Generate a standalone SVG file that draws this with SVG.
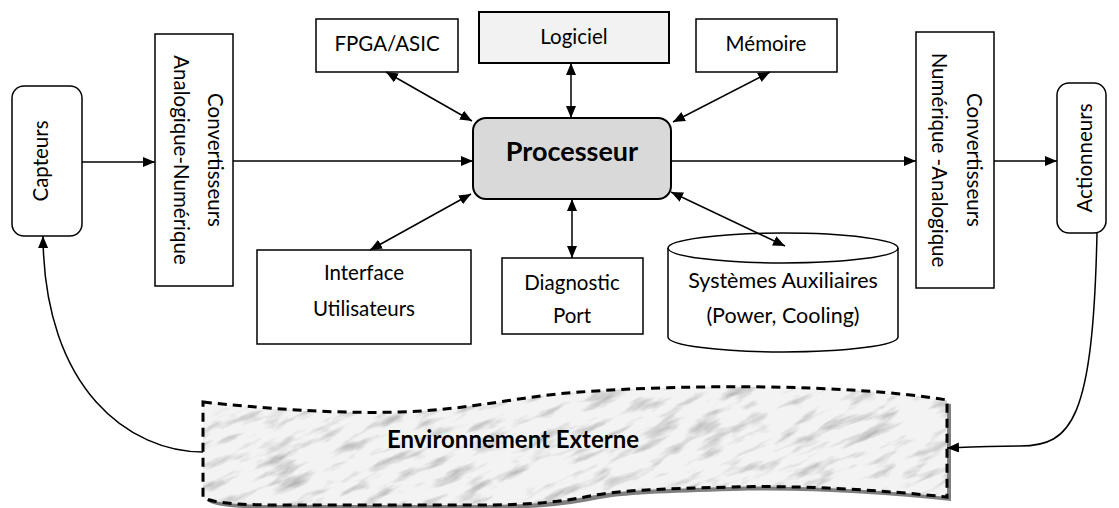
<svg xmlns="http://www.w3.org/2000/svg" width="1119" height="508" viewBox="0 0 1119 508">
  <style>
    .box { fill: #ffffff; stroke: #000000; stroke-width: 1.5; }
    .lbl { font-family: Lato, "Liberation Sans", sans-serif; font-size: 20.5px; fill: #000000; text-anchor: middle; }
    .title { font-family: Lato, "Liberation Sans", sans-serif; font-weight: bold; fill: #000000; text-anchor: middle; }
    .link { fill: none; stroke: #000000; stroke-width: 1.5; }
  </style>
  <defs>
    <marker id="head" viewBox="0 0 12 10" refX="12" refY="5" markerWidth="12" markerHeight="10" markerUnits="userSpaceOnUse" orient="auto-start-reverse">
      <path d="M0,0 L12,5 L0,10 Z" fill="#000000"/>
    </marker>
    <!-- marble-like grain for the environment band -->
    <filter id="marble" x="0" y="0" width="1" height="1" color-interpolation-filters="sRGB">
      <feTurbulence type="fractalNoise" baseFrequency="0.025 0.1" numOctaves="4" seed="11" result="noise"/>
      <feColorMatrix in="noise" type="matrix" values="0 0 0 0 0.6  0 0 0 0 0.6  0 0 0 0 0.61  1.8 0 0 0 -0.9"/>
    </filter>
    <path id="envShape" d="M203,402 C260,408 330,414 400,412 C470,410 520,396 580,392 C690,384 850,384 947,400 L947,497 C880,490 800,485 730,487 C660,489 620,490 590,496 C560,502 530,505 480,505 L280,505 C240,505 210,503 203,497 Z"/>
    <clipPath id="envClip">
      <use href="#envShape"/>
    </clipPath>
  </defs>

  <!-- external environment band -->
  <g id="environnement">
    <use href="#envShape" transform="translate(4,4)" fill="#7f7f7f"/>
    <use href="#envShape" fill="#f3f3f3"/>
    <g clip-path="url(#envClip)">
      <rect x="125" y="195" width="900" height="500" transform="rotate(-24 575 445)" fill="#ffffff" filter="url(#marble)"/>
    </g>
    <use href="#envShape" fill="none" stroke="#000000" stroke-width="3" stroke-dasharray="9 6"/>
    <text class="title" x="513" y="448" style="font-size:24px">Environnement Externe</text>
  </g>

  <g id="capteurs">
    <rect class="box" x="12" y="86" width="70" height="150" rx="12"/>
    <text class="lbl" transform="translate(48 161) rotate(-90)">Capteurs</text>
  </g>

  <g id="can">
    <rect class="box" x="155" y="34" width="78" height="252"/>
    <g transform="translate(194 160) rotate(90)">
      <text class="lbl" x="0" y="-14">Convertisseurs</text>
      <text class="lbl" x="0" y="20">Analogique-Numérique</text>
    </g>
  </g>

  <g id="processeur">
    <rect x="473" y="118" width="198" height="81" rx="13" fill="#d9d9d9" stroke="#000000" stroke-width="2"/>
    <text class="title" x="572" y="161" style="font-size:27px">Processeur</text>
  </g>

  <g id="fpga">
    <rect class="box" x="316" y="19" width="142" height="53"/>
    <text class="lbl" x="387" y="51">FPGA/ASIC</text>
  </g>

  <g id="logiciel">
    <rect x="479" y="12" width="190" height="51" fill="#f2f2f2" stroke="#000000" stroke-width="2"/>
    <text class="lbl" x="574" y="44">Logiciel</text>
  </g>

  <g id="memoire">
    <rect class="box" x="696" y="19" width="141" height="53"/>
    <text class="lbl" x="766" y="51">Mémoire</text>
  </g>

  <g id="interface">
    <rect class="box" x="257" y="250" width="214" height="94"/>
    <text class="lbl" x="364" y="280">Interface</text>
    <text class="lbl" x="364" y="316">Utilisateurs</text>
  </g>

  <g id="diagnostic">
    <rect class="box" x="502" y="258" width="141" height="76"/>
    <text class="lbl" x="572" y="290">Diagnostic</text>
    <text class="lbl" x="572" y="323">Port</text>
  </g>

  <g id="auxiliaires">
    <path class="box" d="M668,248 L668,337 A115,15 0 0 0 898,337 L898,248 A115,15 0 0 0 668,248 Z"/>
    <path d="M668,248 A115,15 0 0 0 898,248" fill="none" stroke="#000000" stroke-width="1.5"/>
    <text class="lbl" x="783" y="288" style="font-size:21.5px">Systèmes Auxiliaires</text>
    <text class="lbl" x="783" y="323" style="font-size:21.5px">(Power, Cooling)</text>
  </g>

  <g id="cna">
    <rect class="box" x="916" y="32" width="78" height="256"/>
    <g transform="translate(955 160) rotate(90)">
      <text class="lbl" x="0" y="-12">Convertisseurs</text>
      <text class="lbl" x="0" y="23">Numérique -Analogique</text>
    </g>
  </g>

  <g id="actionneurs">
    <rect class="box" x="1057" y="83" width="49" height="150" rx="12"/>
    <text class="lbl" transform="translate(1092 158) rotate(-90)">Actionneurs</text>
  </g>

  <g id="connectors">
    <line class="link" x1="82" y1="162" x2="155" y2="162" marker-end="url(#head)"/>
    <line class="link" x1="233" y1="161" x2="473" y2="161" marker-end="url(#head)"/>
    <line class="link" x1="671" y1="161" x2="916" y2="161" marker-end="url(#head)"/>
    <line class="link" x1="994" y1="161" x2="1057" y2="161" marker-end="url(#head)"/>
    <line class="link" x1="386" y1="72" x2="472" y2="121" marker-start="url(#head)" marker-end="url(#head)"/>
    <line class="link" x1="571" y1="63" x2="571" y2="118" marker-start="url(#head)" marker-end="url(#head)"/>
    <line class="link" x1="770" y1="72" x2="673" y2="122" marker-start="url(#head)" marker-end="url(#head)"/>
    <line class="link" x1="370" y1="250" x2="471" y2="194" marker-start="url(#head)" marker-end="url(#head)"/>
    <line class="link" x1="572" y1="199" x2="572" y2="258" marker-start="url(#head)" marker-end="url(#head)"/>
    <line class="link" x1="671" y1="192" x2="785" y2="246" marker-start="url(#head)" marker-end="url(#head)"/>
    <path class="link" d="M203,452 C130,452 44,390 43,236" stroke-width="2" marker-end="url(#head)"/>
    <path class="link" d="M1097,233 C1093,420 1072,446 1020,446 C990,446 970,447 947,448" stroke-width="1.2" marker-end="url(#head)"/>
  </g>
</svg>
